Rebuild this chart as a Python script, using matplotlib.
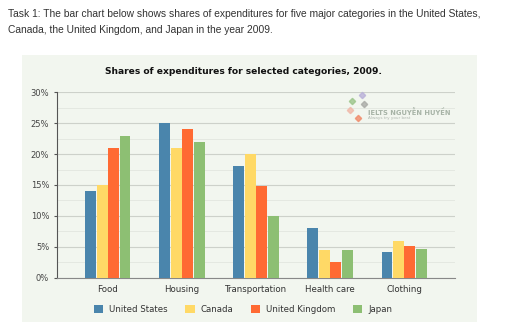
import numpy as np
import matplotlib
matplotlib.use('Agg')
import matplotlib.pyplot as plt
from matplotlib.patches import Rectangle

# data
categories = ['Food', 'Housing', 'Transportation', 'Health care', 'Clothing']
countries = ['United States', 'Canada', 'United Kingdom', 'Japan']
us = [14.0, 25.0, 18.0, 8.0, 4.2]
canada = [15.0, 21.0, 20.0, 4.5, 5.9]
uk = [21.0, 24.0, 14.8, 2.5, 5.2]
japan = [23.0, 22.0, 10.0, 4.5, 4.7]
colors = ['#4a85ac', '#ffd966', '#ff6a33', '#8dbf73']

series = [us, canada, uk, japan]

fig = plt.figure(figsize=(5.12, 3.32), dpi=100)
fig.patch.set_facecolor('white')

# light panel behind the chart
fig.patches.append(Rectangle((0.043, 0.03), 0.889, 0.804, transform=fig.transFigure,
                             facecolor='#f2f6ef', edgecolor='none', zorder=-10))

fig.text(0.016, 0.958, 'Task 1: The bar chart below shows shares of expenditures for five major categories in the United States,',
         family='Liberation Sans', fontsize=7.35, color='#333333', va='center')
fig.text(0.016, 0.91, 'Canada, the United Kingdom, and Japan in the year 2009.',
         family='Liberation Sans', fontsize=7.35, color='#333333', va='center')

fig.text(0.475, 0.786, 'Shares of expenditures for selected categories, 2009.',
         fontsize=6.6, fontweight='bold', ha='center', va='center', color='#111111')

ax = fig.add_axes([0.111, 0.1636, 0.778, 0.5584])
ax.set_facecolor('none')
ax.set_zorder(1)

x = np.arange(len(categories))
w = 0.155
for i, (vals, c, name) in enumerate(zip(series, colors, countries)):
    ax.bar(x + (i - 1.5) * w, vals, width=w * 0.93, color=c, label=name, zorder=3)

ax.set_xlim(-0.69, 4.69)
ax.set_ylim(0, 30)
ax.set_yticks(np.arange(0, 31, 5))
ax.set_yticklabels(['%d%%' % v for v in range(0, 31, 5)])
ax.set_yticks(np.arange(2.5, 30, 5), minor=True)
ax.yaxis.grid(True, which='major', color='#cdd1ca', lw=0.8, zorder=0)
ax.yaxis.grid(True, which='minor', color='#e2e6df', lw=0.6, zorder=0)
ax.set_axisbelow(True)
ax.tick_params(axis='y', which='major', labelsize=6, colors='#555555', length=2, labelcolor='#444444')
ax.tick_params(axis='y', which='minor', length=0)
ax.set_xticks(x)
ax.set_xticklabels(categories)
ax.tick_params(axis='x', length=0, labelsize=6.2, labelcolor='#333333', pad=5)

for s in ['top', 'right']:
    ax.spines[s].set_visible(False)
ax.spines['left'].set_color('#555555')
ax.spines['left'].set_linewidth(0.8)
ax.spines['bottom'].set_color('#888888')
ax.spines['bottom'].set_linewidth(0.8)

# watermark logo + text
logo = [(0.742, 0.955, '#9cc58a'), (0.765, 0.985, '#b9b0d8'), (0.77, 0.935, '#a9aaa6'),
        (0.737, 0.905, '#f0b8a8'), (0.755, 0.86, '#f08a6a')]
for lx, ly, lc in logo:
    ax.plot(lx, ly, marker='D', ms=3.2, color=lc, alpha=0.8, transform=ax.transAxes,
            clip_on=False, zorder=2)
ax.text(0.78, 0.895, 'IELTS NGUYỄN HUYỀN', transform=ax.transAxes, fontsize=4.9,
        fontweight='bold', color='#9aa89a', alpha=0.85, ha='left', va='center', zorder=2)
ax.text(0.78, 0.86, 'Always try your best', transform=ax.transAxes, fontsize=3.0,
        color='#b0b8b0', ha='left', va='center', zorder=2)

leg = fig.legend(loc='center', bbox_to_anchor=(0.475, 0.067), ncol=4, frameon=False,
                 fontsize=6.2, handlelength=1.1, handleheight=1.1, handletextpad=0.7,
                 columnspacing=2.0)
for t in leg.get_texts():
    t.set_color('#333333')

fig.savefig('out.png', dpi=100)
